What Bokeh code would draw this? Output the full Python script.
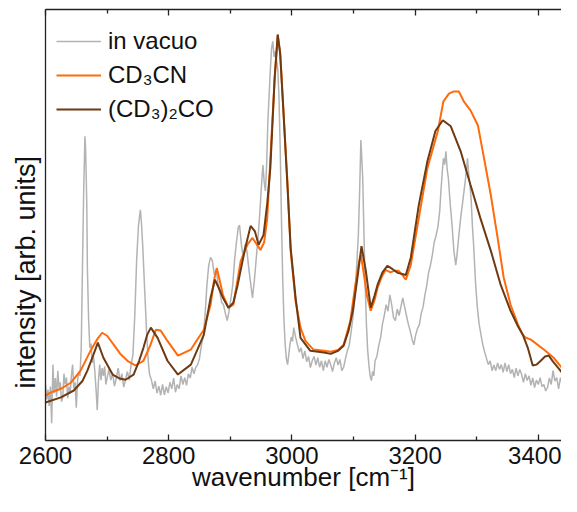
from bokeh.plotting import figure
from bokeh.models import Range1d, LinearAxis, FixedTicker, Legend, LegendItem, Title
from bokeh.embed import file_html
from bokeh.resources import INLINE

# ---- data (intensity in arbitrary units) ----
wn_vac = [2600, 2602, 2604, 2606, 2608, 2610, 2612, 2614, 2616, 2618, 2620, 2622, 2624, 2626, 2628,
          2630, 2632, 2634, 2636, 2638, 2640, 2642, 2644, 2646, 2648, 2650, 2652, 2654, 2656, 2658,
          2660, 2662, 2664, 2665, 2666, 2667, 2668, 2670, 2672, 2674, 2676, 2678, 2680, 2682, 2684,
          2686, 2688, 2690, 2692, 2694, 2696, 2698, 2700, 2703, 2706, 2709, 2712, 2715, 2718, 2721,
          2724, 2727, 2730, 2733, 2736, 2739, 2742, 2745, 2748, 2751, 2754, 2756, 2758, 2761, 2764,
          2767, 2769, 2772, 2775, 2778, 2781, 2784, 2787, 2790, 2793, 2796, 2799, 2802, 2805, 2808,
          2811, 2814, 2817, 2820, 2823, 2826, 2829, 2832, 2835, 2838, 2841, 2844, 2847, 2850, 2853,
          2856, 2859, 2862, 2865, 2868, 2871, 2874, 2877, 2880, 2883, 2886, 2889, 2892, 2895, 2898,
          2901, 2904, 2907, 2910, 2913, 2915, 2918, 2921, 2924, 2927, 2930, 2933, 2936, 2939, 2942,
          2945, 2948, 2951, 2953, 2955, 2957, 2959, 2961, 2963, 2965, 2967, 2969, 2971, 2973, 2975,
          2977, 2979, 2981, 2983, 2985, 2987, 2989, 2991, 2993, 2995, 2997, 2999, 3001, 3003, 3006,
          3009, 3012, 3015, 3018, 3021, 3024, 3027, 3030, 3033, 3036, 3039, 3042, 3045, 3048, 3051,
          3054, 3057, 3060, 3063, 3066, 3069, 3072, 3075, 3078, 3081, 3084, 3087, 3090, 3093, 3096,
          3099, 3102, 3105, 3108, 3110, 3112, 3113, 3115, 3117, 3119, 3121, 3123, 3125, 3127, 3129,
          3131, 3133, 3135, 3138, 3141, 3144, 3147, 3150, 3153, 3156, 3159, 3162, 3165, 3168, 3171,
          3174, 3177, 3180, 3183, 3186, 3189, 3192, 3195, 3198, 3201, 3204, 3207, 3210, 3213, 3216,
          3219, 3222, 3225, 3228, 3231, 3234, 3237, 3240, 3242, 3244, 3246, 3248, 3250, 3252, 3254,
          3257, 3260, 3263, 3266, 3268, 3271, 3274, 3277, 3280, 3282, 3284, 3285, 3287, 3289, 3291,
          3293, 3295, 3298, 3301, 3304, 3307, 3310, 3313, 3316, 3319, 3322, 3325, 3328, 3331, 3334,
          3337, 3340, 3343, 3346, 3349, 3352, 3355, 3358, 3361, 3364, 3367, 3370, 3373, 3376, 3379,
          3382, 3385, 3388, 3391, 3394, 3397, 3400, 3403, 3406, 3409, 3412, 3415, 3418, 3421, 3424,
          3427, 3430, 3433, 3436, 3439, 3442, 3445, 3448, 3451, 3454, 3457, 3460, 3464]
int_vac = [13.0, 9.5, 11.8, 8.0, 12.5, 4.0, 17.6, 11.0, 14.5, 10.2, 16.2, 12.0, 13.5, 9.0, 10.0,
           15.5, 13.0, 14.6, 9.8, 12.5, 11.0, 15.0, 17.6, 12.0, 13.5, 7.6, 13.9, 16.0, 15.0, 21.5,
           40.0, 58.0, 70.6, 68.0, 62.0, 55.0, 40.0, 28.0, 21.5, 22.5, 18.0, 19.5, 16.2, 12.0, 7.0,
           14.0, 17.6, 14.0, 16.8, 15.0, 17.2, 13.0, 14.5, 16.5, 14.0, 15.5, 12.6, 14.5, 16.8, 13.9,
           15.5, 12.4, 14.2, 16.0, 14.0, 17.6, 20.0, 29.2, 42.0, 50.0, 53.5, 50.0, 44.7, 35.0, 25.5,
           18.0, 15.3, 14.0, 12.0, 13.8, 11.0, 12.6, 10.5, 13.0, 10.6, 12.5, 11.0, 13.5, 12.0, 14.5,
           11.2, 13.0, 12.0, 15.0, 13.0, 14.6, 12.8, 15.5, 14.5, 17.0, 15.5, 17.0, 17.6, 19.0, 22.0,
           24.0, 29.0, 36.0, 40.7, 42.5, 41.7, 38.5, 39.5, 36.5, 34.5, 32.0, 31.5, 29.5, 27.8, 30.0,
           33.0, 36.1, 42.0, 46.0, 49.5, 50.0, 45.5, 42.4, 45.5, 44.0, 40.0, 36.5, 33.1, 37.0, 42.0,
           47.0, 53.0, 60.0, 63.9, 60.0, 57.9, 64.0, 74.0, 80.0, 86.0, 91.0, 92.6, 89.0, 90.3, 88.5,
           86.3, 80.0, 68.0, 52.0, 38.0, 28.5, 22.5, 19.0, 17.6, 20.0, 22.5, 24.0, 23.0, 26.2, 24.0,
           22.2, 20.5, 21.5, 19.0, 20.8, 18.3, 19.5, 16.9, 18.5, 19.5, 17.5, 19.2, 17.0, 18.5, 16.2,
           18.5, 17.0, 18.8, 17.6, 16.0, 18.0, 19.2, 17.5, 18.8, 16.2, 17.0, 19.0, 20.8, 22.0, 25.0,
           28.5, 33.0, 40.0, 48.0, 58.0, 69.7, 67.0, 60.9, 48.0, 36.0, 27.0, 21.0, 17.6, 15.0, 13.9,
           16.0, 15.0, 18.5, 19.5, 22.0, 23.8, 27.0, 29.0, 31.5, 30.0, 33.8, 31.5, 28.5, 27.8, 30.5,
           29.0, 31.0, 33.1, 31.0, 29.0, 27.0, 25.5, 23.5, 22.2, 24.5, 26.0, 26.9, 29.5, 31.0, 33.8,
           36.0, 39.0, 40.7, 43.0, 46.0, 47.5, 49.5, 53.2, 58.0, 62.0, 65.5, 64.0, 67.1, 63.0, 60.9,
           55.0, 50.0, 44.0, 40.7, 43.0, 47.5, 51.6, 55.0, 58.5, 60.9, 63.5, 65.5, 62.0, 59.5, 56.0,
           50.0, 45.4, 37.0, 31.0, 27.0, 24.5, 22.2, 20.5, 19.0, 17.6, 18.5, 16.2, 17.5, 16.2, 18.0,
           16.5, 17.6, 15.8, 18.0, 16.0, 17.6, 15.5, 16.5, 14.6, 16.8, 15.0, 16.5, 15.3, 13.5, 15.5,
           13.9, 15.0, 12.8, 14.5, 12.3, 14.0, 13.0, 14.6, 12.5, 13.0, 11.5, 12.3, 14.5, 13.0, 16.2,
           13.8, 14.6, 12.0, 14.6, 13.0, 13.5, 11.6, 12.8, 10.5, 9.3, 12.0, 10.5, 11.6]

wn_cd3cn = [2600, 2608, 2625, 2641, 2657, 2673, 2684, 2692, 2700, 2711, 2722, 2733, 2746, 2759, 2770,
            2779, 2787, 2798, 2815, 2836, 2857, 2868, 2874, 2878, 2883, 2888, 2897, 2905, 2917, 2928,
            2936, 2943, 2949, 2955, 2960, 2966, 2972, 2977, 2981, 2986, 2993, 2998, 3006, 3014, 3022,
            3035, 3052, 3063, 3075, 3084, 3095, 3103, 3109, 3112, 3116, 3122, 3128, 3134, 3139, 3146,
            3152, 3160, 3167, 3173, 3180, 3185, 3193, 3206, 3220, 3237, 3246, 3255, 3263, 3271, 3279,
            3290, 3302, 3311, 3323, 3334, 3344, 3355, 3367, 3375, 3379, 3388, 3409, 3425, 3441, 3458, 3464]
int_cd3cn = [10.4, 11.1, 12.0, 13.4, 16.2, 20.8, 23.5, 25.0, 24.3, 22.2, 20.0, 18.5, 17.4, 18.5, 22.0,
             25.7, 25.5, 23.1, 19.7, 21.1, 25.7, 31.5, 37.5, 40.0, 37.0, 33.8, 30.8, 31.5, 41.7, 45.5,
             47.0, 45.5, 44.2, 46.0, 51.6, 67.8, 84.0, 94.0, 89.8, 77.1, 59.3, 44.0, 32.4, 26.2, 23.1,
             21.1, 20.8, 20.6, 21.0, 22.2, 27.8, 36.1, 41.5, 43.1, 39.4, 33.5, 30.1, 32.5, 35.4, 38.0,
             39.6, 39.0, 39.4, 39.4, 38.3, 37.3, 40.7, 51.6, 63.2, 71.8, 78.7, 80.5, 81.0, 81.0, 78.7,
             76.6, 73.1, 66.2, 56.9, 47.0, 37.7, 31.5, 26.9, 24.5, 23.9, 23.4, 21.1, 19.2, 16.4, 15.5, 15.3]

wn_acet = [2600, 2625, 2646, 2660, 2668, 2678, 2685, 2694, 2709, 2720, 2730, 2743, 2752, 2759, 2765,
           2771, 2782, 2798, 2815, 2836, 2857, 2868, 2875, 2881, 2888, 2897, 2905, 2912, 2924, 2933,
           2940, 2946, 2954, 2960, 2965, 2972, 2977, 2981, 2986, 2993, 2998, 3006, 3014, 3030, 3052,
           3063, 3075, 3084, 3092, 3099, 3107, 3113, 3120, 3128, 3134, 3139, 3147, 3155, 3163, 3172,
           3185, 3193, 3206, 3220, 3233, 3245, 3258, 3274, 3290, 3306, 3323, 3339, 3355, 3367, 3375,
           3383, 3391, 3397, 3404, 3411, 3417, 3424, 3432, 3445, 3464]
int_acet = [8.8, 10.0, 11.6, 13.8, 16.2, 20.0, 22.7, 19.2, 15.3, 14.4, 14.1, 15.3, 18.5, 21.5, 24.5,
            26.2, 23.8, 18.5, 15.3, 17.6, 24.5, 33.1, 37.3, 35.5, 33.1, 30.8, 32.0, 36.1, 44.5, 49.8,
            48.5, 45.4, 47.7, 55.0, 63.2, 84.0, 94.2, 89.8, 77.1, 58.6, 44.7, 33.1, 23.8, 20.8, 20.4,
            20.1, 20.8, 22.0, 25.5, 30.1, 38.4, 45.1, 39.4, 30.8, 33.5, 36.1, 39.0, 40.5, 39.8, 38.9,
            38.4, 42.4, 54.6, 64.8, 71.8, 74.3, 72.9, 67.1, 59.3, 51.6, 44.0, 36.1, 30.1, 26.5, 24.5,
            21.5, 17.4, 17.6, 18.5, 19.5, 19.7, 18.3, 16.9, 14.6, 12.7]

series_labels = ["in vacuo", "CD\u2083CN", "(CD\u2083)\u2082CO"]
series_colors = ["#b3b3b3", "#ff6a0a", "#6e3a12"]
tick_values = [2600, 2800, 3000, 3200, 3400]
minor_tick_values = [2700, 2900, 3100, 3300]
x_label = "wavenumber [cm\u207b\u00b9]"
y_label = "intensity [arb. units]"

FONT = "Liberation Sans"

p = figure(width=561, height=496, output_backend="svg", toolbar_location=None,
           x_range=Range1d(2600, 3437.7), y_range=Range1d(0, 100),
           min_border_left=45, min_border_right=0, min_border_top=9, min_border_bottom=56,
           x_axis_type=None, y_axis_type=None)
p.outline_line_color = None
p.grid.visible = False
p.background_fill_color = "white"
p.border_fill_color = "white"

r_vac = p.line(wn_vac, int_vac, line_color=series_colors[0], line_width=1.5)
r_cn = p.line(wn_cd3cn, int_cd3cn, line_color=series_colors[1], line_width=2)
r_ac = p.line(wn_acet, int_acet, line_color=series_colors[2], line_width=2)

ticker = FixedTicker(ticks=tick_values, minor_ticks=minor_tick_values)

def style_x(ax, labels=True):
    ax.ticker = ticker
    ax.axis_line_color = "#222222"
    ax.axis_line_width = 1.3
    ax.major_tick_in = 6
    ax.major_tick_out = 0
    ax.minor_tick_in = 4
    ax.minor_tick_out = 0
    ax.major_tick_line_color = "#222222"
    ax.minor_tick_line_color = "#222222"
    ax.major_tick_line_width = 1.3
    ax.minor_tick_line_width = 1.3
    if labels:
        ax.major_label_text_font = FONT
        ax.major_label_text_font_size = "24px"
        ax.major_label_text_color = "#111111"
        ax.major_label_standoff = 6
    else:
        ax.major_label_text_font_size = "0px"
        ax.major_label_text_color = None
        ax.major_label_standoff = 0

xb = LinearAxis()
style_x(xb)
xb.axis_label = x_label
xb.axis_label_text_font = FONT
xb.axis_label_text_font_size = "26px"
xb.axis_label_text_font_style = "normal"
xb.axis_label_text_color = "#111111"
xb.axis_label_standoff = -5
p.add_layout(xb, "below")

xt = LinearAxis()
style_x(xt, labels=False)
p.add_layout(xt, "above")

yl = LinearAxis(ticker=FixedTicker(ticks=[]))
yl.axis_line_color = "#222222"
yl.axis_line_width = 1.3
yl.major_tick_in = 0
yl.major_tick_out = 7
yl.minor_tick_in = 0
yl.minor_tick_out = 0
yl.major_label_text_font_size = "0px"
yl.major_label_text_color = None
yl.major_label_standoff = 0
p.add_layout(yl, "left")

ytitle = Title(text=y_label, align="left", offset=52,
               text_font=FONT, text_font_size="27px", text_font_style="normal",
               text_color="#111111")
p.add_layout(ytitle, "left")

legend = Legend(items=[LegendItem(label=series_labels[0], renderers=[r_vac]),
                       LegendItem(label=series_labels[1], renderers=[r_cn]),
                       LegendItem(label=series_labels[2], renderers=[r_ac])],
                location=(11, 314))
legend.border_line_color = None
legend.background_fill_alpha = 0
legend.padding = 0
legend.margin = 0
legend.spacing = 0
legend.glyph_width = 45
legend.glyph_height = 34
legend.label_height = 34
legend.label_standoff = 7
legend.label_text_font = FONT
legend.label_text_font_size = "24px"
legend.label_text_color = "#111111"
p.add_layout(legend)

open("out.html", "w").write(file_html(p, INLINE))
